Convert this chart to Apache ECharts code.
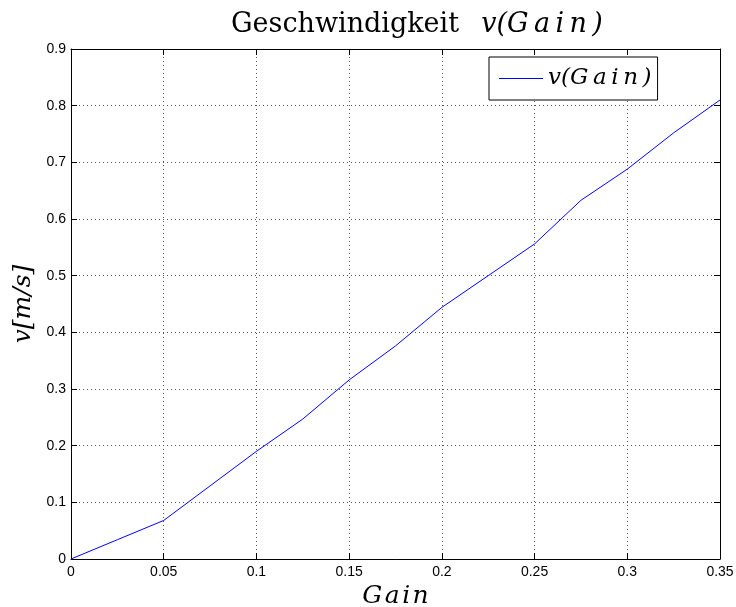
<!DOCTYPE html>
<html>
<head>
<meta charset="utf-8">
<script src="https://cdn.jsdelivr.net/npm/echarts@6/dist/echarts.min.js"></script>
<style>
  html, body { margin: 0; padding: 0; background: #fff; }
  #chart { width: 736px; height: 607px; }
</style>
</head>
<body>
<div id="chart"></div>
<script>
// Measured speed v [m/s] over controller gain
const gain = [0, 0.025, 0.05, 0.075, 0.1, 0.125, 0.15, 0.175, 0.2, 0.225, 0.25, 0.275, 0.3, 0.325, 0.35];
const speed = [0, 0.034, 0.068, 0.129, 0.190, 0.247, 0.316, 0.376, 0.444, 0.500, 0.556, 0.633, 0.688, 0.752, 0.810];
const xTicks = [0, 0.05, 0.1, 0.15, 0.2, 0.25, 0.3, 0.35];
const yTicks = [0, 0.1, 0.2, 0.3, 0.4, 0.5, 0.6, 0.7, 0.8, 0.9];

const seriesName = 'v(Gain)';
const hair = '\u200A';
const thin = '\u2009';
// math-style italic with a little extra letter spacing
const spaced = (s, gap) => s.split('').join(gap);

const tickFont = { fontFamily: 'Liberation Sans, Arial, sans-serif', fontSize: 14, color: '#000' };
const serif = 'DejaVu Serif, serif';

const points = gain.map((g, i) => [g, speed[i]]);

const frameAxis = {
  type: 'value',
  axisLine: { show: true, onZero: false, lineStyle: { color: '#000', width: 1 } },
  axisTick: { show: true, inside: true, length: 6, lineStyle: { color: '#000', width: 1 } },
};

const chart = echarts.init(document.getElementById('chart'), null, { renderer: 'canvas' });
chart.setOption({
  animation: false,
  backgroundColor: '#fff',
  title: {
    text: '{r|Geschwindigkeit \u2002}{m|v(' + spaced('Gain', thin) + thin + ')}',
    left: 226,
    top: 3,
    textStyle: {
      fontWeight: 'normal',
      rich: {
        r: { fontFamily: serif, fontSize: 27, fontWeight: 'normal', color: '#000', lineHeight: 33 },
        m: { fontFamily: serif, fontSize: 27, fontWeight: 'normal', fontStyle: 'italic', color: '#000', lineHeight: 33 }
      }
    }
  },
  legend: {
    left: 489,
    top: 57,
    orient: 'horizontal',
    padding: [10, 6, 10, 10],
    backgroundColor: '#fff',
    borderColor: '#000',
    borderWidth: 1,
    borderRadius: 0,
    icon: 'rect',
    itemWidth: 44,
    itemHeight: 1,
    itemGap: 5,
    data: [seriesName],
    formatter: () => 'v(' + spaced('Gain', thin) + thin + ')',
    textStyle: { fontFamily: serif, fontSize: 23, fontStyle: 'italic', color: '#000', padding: [0, 0, 0, 0] }
  },
  grid: { left: 71, right: 16, top: 49, bottom: 48, outerBoundsMode: 'none' },
  xAxis: [
    Object.assign({}, frameAxis, {
      position: 'bottom',
      min: xTicks[0],
      max: xTicks[xTicks.length - 1],
      interval: 0.05,
      name: spaced('Gain', hair),
      nameLocation: 'middle',
      nameGap: 22,
      nameTextStyle: { fontFamily: serif, fontSize: 25, fontStyle: 'italic', color: '#000' },
      axisLabel: Object.assign({ margin: 6, formatter: v => String(+v.toFixed(2)) }, tickFont),
      splitLine: { show: true, lineStyle: { color: '#555', width: 1, type: [1, 3] } }
    }),
    Object.assign({}, frameAxis, {
      position: 'top',
      min: xTicks[0],
      max: xTicks[xTicks.length - 1],
      interval: 0.05,
      axisLabel: { show: false },
      splitLine: { show: false }
    })
  ],
  yAxis: [
    Object.assign({}, frameAxis, {
      position: 'left',
      min: yTicks[0],
      max: yTicks[yTicks.length - 1],
      interval: 0.1,
      name: 'v[m/s]',
      nameLocation: 'middle',
      nameGap: 33,
      nameRotate: 90,
      nameTextStyle: { fontFamily: serif, fontSize: 25, fontStyle: 'italic', color: '#000' },
      axisLabel: Object.assign({ margin: 5, formatter: v => String(+v.toFixed(1)) }, tickFont),
      splitLine: { show: true, lineStyle: { color: '#555', width: 1, type: [1, 3] } }
    }),
    Object.assign({}, frameAxis, {
      position: 'right',
      min: yTicks[0],
      max: yTicks[yTicks.length - 1],
      interval: 0.1,
      axisLabel: { show: false },
      splitLine: { show: false }
    })
  ],
  series: [{
    name: seriesName,
    type: 'line',
    xAxisIndex: 0,
    yAxisIndex: 0,
    data: points,
    showSymbol: false,
    symbol: 'none',
    lineStyle: { color: '#0000ff', width: 1 },
    itemStyle: { color: '#0000ff' }
  }]
});
</script>
</body>
</html>
